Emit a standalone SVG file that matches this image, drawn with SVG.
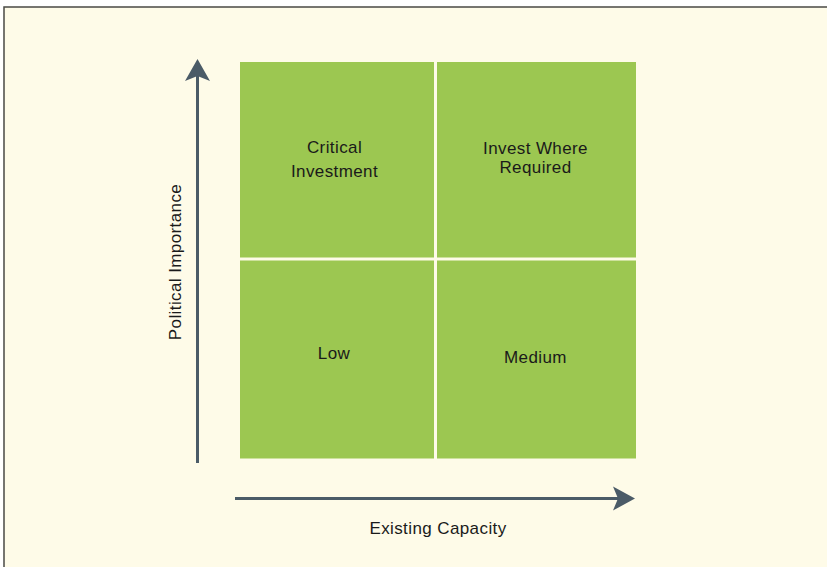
<svg xmlns="http://www.w3.org/2000/svg" width="827" height="567" viewBox="0 0 827 567">
<style>
.q{fill:#9CC751}
.t{font-family:"Liberation Sans",Arial,sans-serif;font-size:17px;fill:#1a1a1a;text-anchor:middle;letter-spacing:0.4px}
.ax{stroke:#4B5B67;stroke-width:3;fill:none}
.ah{fill:#4B5B67}
</style>
<rect x="0" y="0" width="827" height="567" fill="#ffffff"/>
<rect x="4" y="7" width="830" height="570" fill="#FEFBE8" stroke="#4a4a44" stroke-width="1.5"/>
<g id="q-critical">
<rect class="q" x="240" y="62" width="194" height="195.5"/>
<text class="t" x="334.5" y="153">Critical</text>
<text class="t" x="334.5" y="177">Investment</text>
</g>
<g id="q-invest">
<rect class="q" x="437" y="62" width="199" height="195.5"/>
<text class="t" x="535.5" y="154">Invest Where</text>
<text class="t" x="535.5" y="173">Required</text>
</g>
<g id="q-low">
<rect class="q" x="240" y="260.5" width="194" height="198"/>
<text class="t" x="334" y="359">Low</text>
</g>
<g id="q-medium">
<rect class="q" x="437" y="260.5" width="199" height="198"/>
<text class="t" x="535.5" y="362.5">Medium</text>
</g>
<g id="connectors">
<line class="ax" x1="197.5" y1="463" x2="197.5" y2="72"/>
<path class="ah" d="M197.5,59 L210,81 L197.5,76 L185,81 Z"/>
<line class="ax" x1="235" y1="498.5" x2="622" y2="498.5"/>
<path class="ah" d="M635,498.5 L613,510.5 L618,498.5 L613,486.5 Z"/>
</g>
<g id="labels">
<text class="t" x="438" y="534">Existing Capacity</text>
<text class="t" transform="translate(180.5,262) rotate(-90)" x="0" y="0">Political Importance</text>
</g>
</svg>
